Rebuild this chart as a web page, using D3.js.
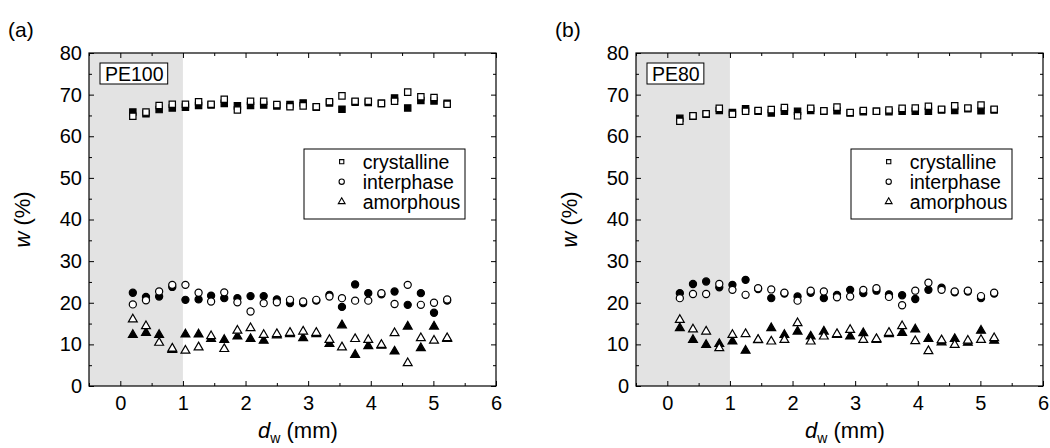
<!DOCTYPE html>
<html>
<head>
<meta charset="utf-8">
<script src="https://cdn.jsdelivr.net/npm/d3@7"></script>
<style>
  body { margin: 0; background: #fff; }
  svg text { font-family: "Liberation Sans", Arial, sans-serif; fill: #000; }
</style>
</head>
<body>
<svg id="chart" width="1050" height="448"></svg>
<script>
// Distance from the weld, d_w (mm)
const dw = [0.20, 0.41, 0.62, 0.83, 1.04, 1.25, 1.45, 1.66, 1.87, 2.08, 2.29, 2.50, 2.71,
            2.92, 3.13, 3.34, 3.54, 3.75, 3.96, 4.17, 4.38, 4.59, 4.80, 5.01, 5.22];

// PE100 phase fractions w (%): filled and open symbols
const pe100CrystallineFilled = [65.8, 65.4, 66.4, 66.8, 67.0, 67.4, 67.5, 67.9, 67.3, 67.4, 67.5, 67.3, 67.6,
                                68.0, 67.0, 68.0, 66.5, 68.2, 68.1, 67.9, 69.2, 66.8, 68.6, 68.5, 67.9];
const pe100CrystallineOpen   = [64.8, 65.8, 67.4, 67.7, 67.7, 68.3, 67.7, 68.9, 66.3, 68.4, 68.4, 67.6, 67.1,
                                67.3, 67.1, 68.3, 69.7, 68.4, 68.4, 67.9, 68.4, 70.6, 69.5, 69.3, 67.7];
const pe100InterphaseFilled  = [22.4, 21.4, 21.5, 23.8, 20.7, 20.8, 21.7, 21.1, 21.1, 21.6, 21.6, 20.8, 19.9,
                                19.9, 20.5, 21.9, 19.0, 24.4, 22.3, 22.0, 22.7, 19.5, 22.3, 17.6, 20.5];
const pe100InterphaseOpen    = [19.6, 20.6, 22.7, 24.3, 24.3, 22.4, 20.3, 22.5, 20.1, 17.9, 19.9, 20.1, 20.7,
                                20.3, 20.7, 21.5, 21.1, 20.5, 20.5, 22.3, 19.7, 24.3, 19.5, 20.0, 20.8];
const pe100AmorphousFilled   = [12.3, 12.8, 12.3, 8.7, 12.4, 12.4, 11.3, 11.1, 11.9, 11.3, 10.9, 12.2, 12.5,
                                11.5, 12.5, 10.1, 14.6, 7.5, 9.6, 9.7, 8.3, 14.3, 9.1, 14.3, 11.3];
const pe100AmorphousOpen     = [16.0, 14.4, 10.4, 9.0, 8.5, 9.3, 12.0, 8.9, 13.3, 13.9, 12.3, 12.5, 12.8,
                                13.1, 12.8, 11.1, 9.3, 11.3, 11.1, 9.9, 12.7, 5.5, 11.5, 10.9, 11.5];

// PE80 phase fractions w (%): filled and open symbols
const pe80CrystallineFilled = [64.3, 64.8, 65.3, 66.2, 65.7, 66.6, 66.0, 65.6, 66.0, 66.0, 66.2, 66.0, 66.1,
                               65.6, 65.9, 66.0, 65.9, 66.0, 66.0, 66.0, 66.3, 66.2, 66.6, 66.1, 66.3];
const pe80CrystallineOpen   = [63.6, 64.9, 65.4, 66.7, 65.3, 66.0, 66.2, 66.4, 66.9, 64.9, 66.7, 66.1, 67.0,
                               65.7, 66.2, 66.0, 66.3, 66.7, 66.8, 67.2, 66.5, 67.3, 66.8, 67.5, 66.5];
const pe80InterphaseFilled  = [22.3, 24.5, 25.1, 23.7, 24.3, 25.5, 23.3, 21.1, 22.2, 21.5, 22.4, 21.1, 21.9,
                               23.1, 22.3, 22.9, 22.0, 21.8, 20.9, 23.1, 23.6, 22.5, 22.7, 21.1, 22.2];
const pe80InterphaseOpen    = [21.1, 22.1, 22.1, 24.5, 23.1, 21.9, 23.5, 23.2, 22.4, 20.5, 22.9, 22.7, 21.3,
                               21.5, 23.1, 23.5, 21.4, 19.4, 22.9, 24.8, 23.1, 22.7, 22.9, 21.6, 22.4];
const pe80AmorphousFilled   = [13.9, 11.1, 9.9, 10.1, 10.7, 8.5, 11.0, 13.9, 12.3, 13.1, 11.9, 13.1, 12.3,
                               11.9, 12.7, 11.1, 12.5, 12.8, 13.6, 11.3, 10.5, 11.3, 10.4, 13.3, 10.9];
const pe80AmorphousOpen     = [15.9, 13.6, 13.1, 9.1, 12.3, 12.5, 11.1, 10.7, 11.1, 15.1, 10.7, 11.9, 12.5,
                               13.5, 11.1, 11.3, 12.8, 14.4, 10.8, 8.4, 11.0, 9.9, 10.9, 11.1, 11.5];

// Axis ticks and labels
const xMajorTicks = [0, 1, 2, 3, 4, 5, 6];
const xMinorTicks = [-0.5, 0.5, 1.5, 2.5, 3.5, 4.5, 5.5];
const yMajorTicks = [0, 10, 20, 30, 40, 50, 60, 70, 80];
const yMinorTicks = [5, 15, 25, 35, 45, 55, 65, 75];
const phaseNames = ["crystalline", "interphase", "amorphous"];
const shadedRange = [-0.5, 1];

const panels = [
  { tag: "(a)", grade: "PE100", left: 89,
    filled: [pe100CrystallineFilled, pe100InterphaseFilled, pe100AmorphousFilled],
    open:   [pe100CrystallineOpen,   pe100InterphaseOpen,   pe100AmorphousOpen] },
  { tag: "(b)", grade: "PE80", left: 636,
    filled: [pe80CrystallineFilled, pe80InterphaseFilled, pe80AmorphousFilled],
    open:   [pe80CrystallineOpen,   pe80InterphaseOpen,   pe80AmorphousOpen] }
];

const plotW = 407, plotTop = 53, plotBottom = 386;
const font = '"Liberation Sans", Arial, sans-serif';
const svg = d3.select("#chart");

const markerTypes = [d3.symbolSquare, d3.symbolCircle, d3.symbolTriangle];
const markerSizes = [40, 40, 34];
const legendSizes = [18, 22, 20];

panels.forEach(p => {
  const x = d3.scaleLinear().domain([-0.5, 6]).range([p.left, p.left + plotW]);
  const y = d3.scaleLinear().domain([0, 80]).range([plotBottom, plotTop]);
  const g = svg.append("g");

  // shaded near-weld zone
  g.append("rect")
    .attr("x", x(shadedRange[0])).attr("y", plotTop)
    .attr("width", x(shadedRange[1]) - x(shadedRange[0])).attr("height", plotBottom - plotTop)
    .attr("fill", "#e3e3e3");

  // filled symbols first, open symbols (white-filled) on top
  const drawSeries = (sets, filled) => {
    sets.forEach((vals, k) => {
      const sym = d3.symbol().type(markerTypes[k]).size(markerSizes[k]);
      g.append("g").selectAll("path").data(vals).join("path")
        .attr("d", sym)
        .attr("transform", (v, i) => `translate(${x(dw[i])},${y(v)})`)
        .attr("fill", filled ? "#000" : "#fff")
        .attr("stroke", "#000")
        .attr("stroke-width", 1.2);
    });
  };
  drawSeries(p.filled, true);
  drawSeries(p.open, false);

  // axes with inward ticks on all four sides
  const styleAxis = sel => {
    sel.select(".domain").remove();
    sel.selectAll("line").attr("stroke", "#000").attr("stroke-width", 1);
    sel.selectAll("text").attr("font-size", 20).attr("font-family", font).attr("fill", "#000");
  };
  g.append("g").attr("transform", `translate(0,${plotBottom})`)
    .call(d3.axisBottom(x).tickValues(xMajorTicks).tickFormat(d3.format("d")).tickSizeInner(-5).tickSizeOuter(0).tickPadding(10))
    .call(styleAxis);
  g.append("g").attr("transform", `translate(0,${plotBottom})`)
    .call(d3.axisBottom(x).tickValues(xMinorTicks).tickFormat("").tickSizeInner(-3).tickSizeOuter(0))
    .call(styleAxis);
  g.append("g").attr("transform", `translate(0,${plotTop})`)
    .call(d3.axisTop(x).tickValues(xMajorTicks).tickFormat("").tickSizeInner(-5).tickSizeOuter(0))
    .call(styleAxis);
  g.append("g").attr("transform", `translate(0,${plotTop})`)
    .call(d3.axisTop(x).tickValues(xMinorTicks).tickFormat("").tickSizeInner(-3).tickSizeOuter(0))
    .call(styleAxis);
  g.append("g").attr("transform", `translate(${p.left},0)`)
    .call(d3.axisLeft(y).tickValues(yMajorTicks).tickFormat(d3.format("d")).tickSizeInner(-5).tickSizeOuter(0).tickPadding(7))
    .call(styleAxis);
  g.append("g").attr("transform", `translate(${p.left},0)`)
    .call(d3.axisLeft(y).tickValues(yMinorTicks).tickFormat("").tickSizeInner(-3).tickSizeOuter(0))
    .call(styleAxis);
  g.append("g").attr("transform", `translate(${p.left + plotW},0)`)
    .call(d3.axisRight(y).tickValues(yMajorTicks).tickFormat("").tickSizeInner(-5).tickSizeOuter(0))
    .call(styleAxis);
  g.append("g").attr("transform", `translate(${p.left + plotW},0)`)
    .call(d3.axisRight(y).tickValues(yMinorTicks).tickFormat("").tickSizeInner(-3).tickSizeOuter(0))
    .call(styleAxis);

  // plot frame
  g.append("rect")
    .attr("x", p.left).attr("y", plotTop).attr("width", plotW).attr("height", plotBottom - plotTop)
    .attr("fill", "none").attr("stroke", "#000").attr("stroke-width", 1.2);

  // grade label box
  const gradeBox = g.append("rect");
  const gradeText = g.append("text")
    .attr("x", p.left + 16).attr("y", 80.5)
    .attr("font-size", 19.5).text(p.grade);
  const bb = gradeText.node().getBBox();
  gradeBox
    .attr("x", bb.x - 5).attr("y", 63).attr("width", bb.width + 9).attr("height", 21)
    .attr("fill", "#fff").attr("stroke", "#000").attr("stroke-width", 1);

  // legend
  const lg = g.append("g").attr("transform", `translate(${p.left + 215},149)`);
  lg.append("rect").attr("width", 161).attr("height", 70)
    .attr("fill", "#fff").attr("stroke", "#000").attr("stroke-width", 1);
  phaseNames.forEach((name, k) => {
    const ry = 12.7 + 20 * k;
    lg.append("path")
      .attr("d", d3.symbol().type(markerTypes[k]).size(legendSizes[k]))
      .attr("transform", `translate(37.7,${ry})`)
      .attr("fill", "#fff").attr("stroke", "#000").attr("stroke-width", 1.1);
    lg.append("text").attr("x", 58.7).attr("y", ry).attr("dy", "0.35em")
      .attr("font-size", 19.5).text(name);
  });

  // panel tag
  svg.append("text").attr("x", p.left - 81).attr("y", 37)
    .attr("font-size", 21).text(p.tag);

  // axis titles
  const xt = svg.append("text").attr("x", p.left + 169).attr("y", 438).attr("font-size", 22);
  xt.append("tspan").attr("font-style", "italic").text("d");
  xt.append("tspan").attr("font-size", 14).attr("dy", 5).text("w");
  xt.append("tspan").attr("dy", -5).text(" (mm)");

  const yt = svg.append("text")
    .attr("transform", `translate(${p.left - 59},${(plotTop + plotBottom) / 2}) rotate(-90)`)
    .attr("text-anchor", "middle").attr("font-size", 22);
  yt.append("tspan").attr("font-style", "italic").text("w");
  yt.append("tspan").text(" (%)");
});
</script>
</body>
</html>
